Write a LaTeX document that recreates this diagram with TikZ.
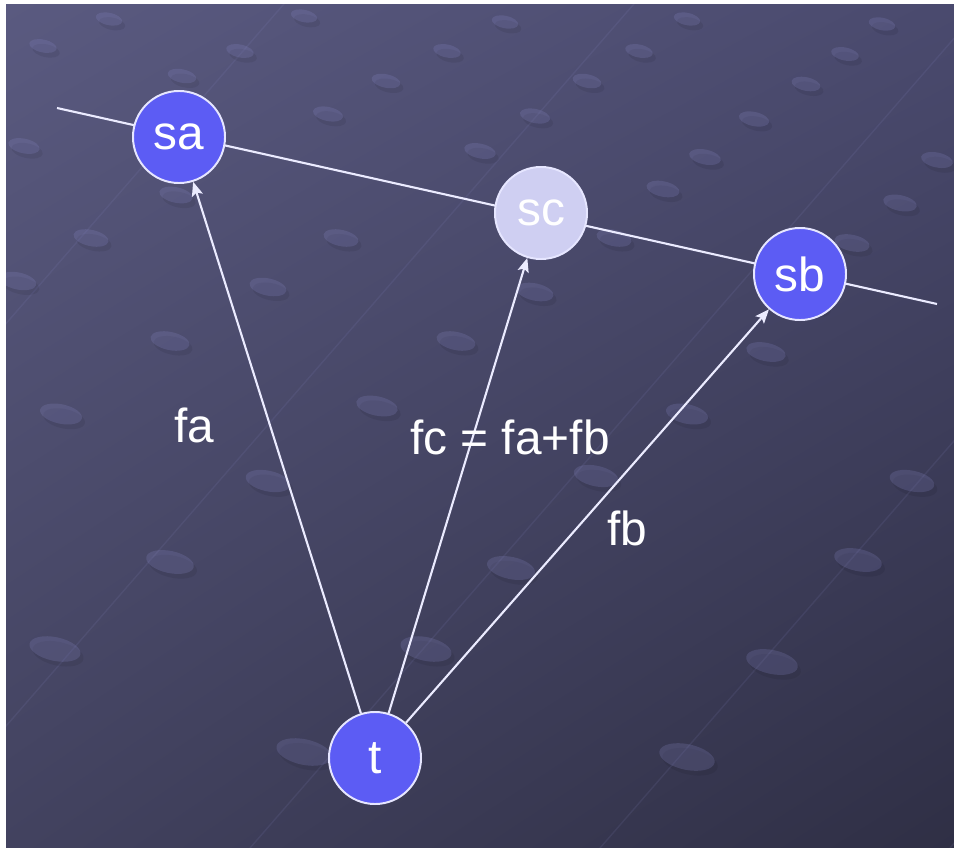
\documentclass[tikz,border=0pt]{standalone}
\usepackage{fontspec}
\setmainfont{Liberation Sans}
\usetikzlibrary{arrows.meta,shapes,shadings}

\definecolor{bgtl}{HTML}{5A5A80}
\definecolor{bgtr}{HTML}{4A4A6E}
\definecolor{bgbl}{HTML}{42425F}
\definecolor{bgbr}{HTML}{2F2F45}
\definecolor{stationblue}{HTML}{5C5CF4}
\definecolor{stationlilac}{HTML}{CFCFF2}
\definecolor{rim}{HTML}{E6E6FF}
\definecolor{dotcol}{HTML}{8A8AC8}

\begin{document}
\begin{tikzpicture}[
    x=0.025cm, y=-0.025cm,
    station/.style={circle,draw=rim,line width=1.4pt,fill=stationblue,minimum size=2.3cm,inner sep=0pt,text=white,font=\fontsize{34}{36}\selectfont},
    midstation/.style={station,fill=stationlilac},
    force/.style={-{Stealth[length=10pt,width=8pt,inset=2pt]},draw=white!92!blue,line width=1.5pt},
    axisline/.style={draw=white!92!blue,line width=1.5pt},
    flabel/.style={text=white,font=\fontsize{34}{36}\selectfont},
    bgdot/.style={fill=dotcol,fill opacity=0.22},
    bgshadow/.style={fill=black,fill opacity=0.07},
    bgline/.style={draw=dotcol,draw opacity=0.12,line width=1pt}
]
\useasboundingbox (0,0) rectangle (954,848);

% Background
\fill[white] (0,0) rectangle (954,848);
\shade[upper left=bgtl,upper right=bgtr,lower left=bgbl,lower right=bgbr] (6,4) rectangle (954,848);
\begin{scope}
  \clip (6,4) rectangle (954,848);
  \foreach \ix in {-450,-100,250,600,950,1300}
    \draw[bgline] (\ix,848) -- ++(740,-851);
  \foreach \px/\py in {109/19,304/16,505/22,687/19,882/24,
                       43/46,240/51,447/51,639/51,845/54,
                       182/76,386/81,587/81,806/84,
                       328/114,535/116,754/119,
                       24/146,480/151,705/157,937/160,
                       176/195,663/189,900/203,
                       91/238,341/238,614/238,852/243,
                       18/281,268/287,535/292,809/303,
                       170/341,456/341,766/352,
                       61/414,377/406,687/414,
                       268/481,596/476,912/481,
                       170/562,511/568,858/560,
                       55/649,426/649,772/662,
                       304/752,687/757}{
    \pgfmathsetmacro\rx{13+0.02*\py}
    \pgfmathsetmacro\ry{6+0.009*\py}
    \fill[bgshadow,rotate around={-12:(\px,\py)}] (\px+4,\py+4) ellipse [x radius=\rx, y radius=\ry];
    \fill[bgdot,rotate around={-12:(\px,\py)}] (\px,\py) ellipse [x radius=\rx, y radius=\ry];
  }
\end{scope}

% Line through the stations
\coordinate (lineL) at (57,108);
\coordinate (lineR) at (937,304);
\draw[axisline] (lineL) -- (lineR);

% Stations
\node[station] (sa) at (179,137) {sa};
\node[midstation] (sc) at (541,213) {sc};
\node[station] (sb) at (800,274) {sb};
\node[station] (t) at (375,758) {t};

% Forces
\draw[force] (t) -- (sa);
\draw[force] (t) -- (sc);
\draw[force] (t) -- (sb);

% Labels
\node[flabel] (lfa) at (194,425) {fa};
\node[flabel] (lfc) at (510,437) {fc = fa+fb};
\node[flabel] (lfb) at (627,528) {fb};

\end{tikzpicture}
\end{document}
